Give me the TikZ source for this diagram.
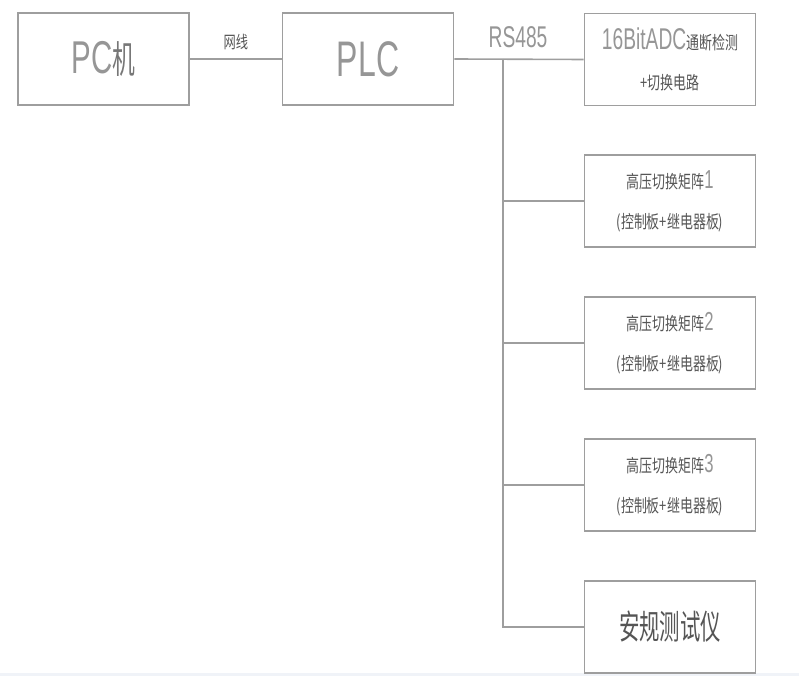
\documentclass[tikz,border=0pt]{standalone}
\usepackage{fontspec}
\usepackage{tikz}
\usetikzlibrary{positioning}
\newfontfamily\isofont[FakeStretch=0.64]{Liberation Sans}
\newfontfamily\cjk[FakeStretch=0.72]{Noto Sans CJK SC}
\newfontfamily\cjknarrow[FakeStretch=0.6]{Noto Sans CJK SC}
\definecolor{linegray}{RGB}{158,158,158}
\definecolor{textgray}{RGB}{150,150,150}
\definecolor{cjkgray}{RGB}{85,85,85}
\definecolor{stripblue}{RGB}{240,243,248}

\begin{document}
\begin{tikzpicture}[x=1pt, y=-1pt,
    box/.style={draw=linegray, line width=1.6pt, minimum width=171pt, minimum height=92pt,
      inner sep=0pt, align=center, text=cjkgray},
    wire/.style={draw=linegray, line width=1.6pt}]
  \useasboundingbox (0,0) rectangle (799,676);
  \fill[stripblue] (0,673) rectangle (799,676);
  % left part
  \node[box, text=textgray, font=\isofont\fontsize{46}{46}\selectfont] (pc) at (103.5,59)
    {PC{\cjknarrow\color{cjkgray!80}\fontsize{38}{38}\selectfont 机}};
  \node[box, text=textgray, font=\isofont\fontsize{50}{50}\selectfont] (plc) at (368,59) {PLC};
  \draw[wire] (pc.east) -- (plc.west)
    node[midway, above=5pt, text=cjkgray, font=\cjk\fontsize{17}{17}\selectfont] (netlbl) {网线};
  % right column
  \node[box, font=\cjk\fontsize{18}{40}\selectfont] (adc) at (670,59.5)
    {{\isofont\color{textgray}\fontsize{30}{40}\selectfont 16BitADC}通断检测\\+切换电路};
  \node[box, font=\cjk\fontsize{18}{40}\selectfont] (hv1) at (670,201)
    {高压切换矩阵{\isofont\color{textgray}\fontsize{26}{40}\selectfont 1}\\(控制板+继电器板)};
  \node[box, font=\cjk\fontsize{18}{40}\selectfont] (hv2) at (670,343)
    {高压切换矩阵{\isofont\color{textgray}\fontsize{26}{40}\selectfont 2}\\(控制板+继电器板)};
  \node[box, font=\cjk\fontsize{18}{40}\selectfont] (hv3) at (670,485)
    {高压切换矩阵{\isofont\color{textgray}\fontsize{26}{40}\selectfont 3}\\(控制板+继电器板)};
  \node[box, font=\cjknarrow\fontsize{34}{34}\selectfont] (tester) at (670,627) {安规测试仪};
  % RS485 bus
  \coordinate (bus) at (503,59);
  \draw[wire] (plc.east) -- (adc.west);
  \node[text=textgray, font=\isofont\fontsize{30}{30}\selectfont] (buslbl) at (518,37) {RS485};
  \draw[wire] (bus) |- (tester.west);
  \draw[wire] (bus |- hv1.west) -- (hv1.west);
  \draw[wire] (bus |- hv2.west) -- (hv2.west);
  \draw[wire] (bus |- hv3.west) -- (hv3.west);
\end{tikzpicture}
\end{document}
